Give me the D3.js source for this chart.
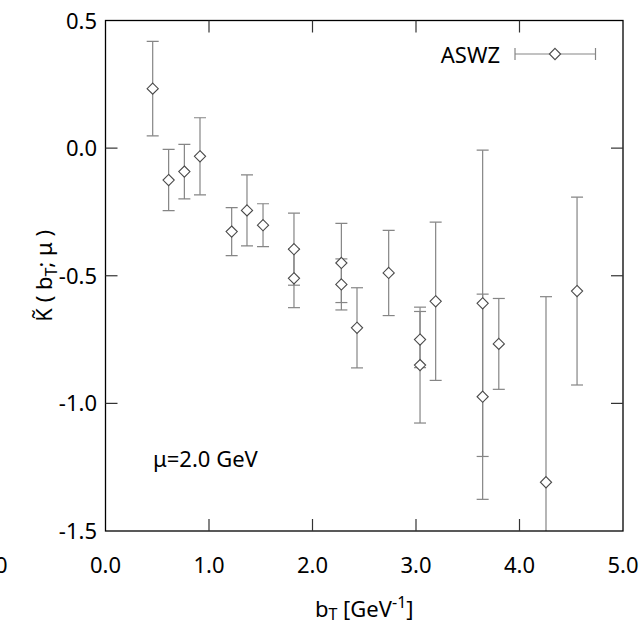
<!DOCTYPE html>
<meta charset="utf-8">
<style>
    body { margin: 0; background: #fff; }
    text { font-family: "Noto Sans", sans-serif; fill: #000; }
    .bar line { stroke: #858585; stroke-width: 1.2; }
    .pt { fill: #fff; stroke: #4a4a4a; stroke-width: 1.1; }
    .frame { fill: none; stroke: #000; stroke-width: 1.3; }
    .tick { stroke: #333; stroke-width: 1.2; }
</style>
<body>
<script src="https://d3js.org/d3.v7.min.js"></script>
<script>

    // b_T values [GeV^-1], K~ central values and their errors
    var bT  = [0.456, 0.61, 0.762, 0.913, 1.219, 1.367, 1.522, 1.821, 1.821, 2.279, 2.279,
               2.43, 2.736, 3.039, 3.039, 3.19, 3.644, 3.644, 3.80, 4.256, 4.556];
    var K   = [0.233, -0.125, -0.092, -0.032, -0.327, -0.244, -0.302, -0.396, -0.51, -0.45, -0.534,
               -0.704, -0.489, -0.75, -0.85, -0.6, -0.608, -0.974, -0.767, -1.309, -0.56];
    var err = [0.185, 0.12, 0.107, 0.151, 0.094, 0.139, 0.084, 0.141, 0.115, 0.155, 0.10,
               0.157, 0.167, 0.11, 0.227, 0.31, 0.60, 0.402, 0.178, 0.727, 0.368];

    var xTicks = [0, 1, 2, 3, 4, 5];
    var yTicks = [0.5, 0, -0.5, -1, -1.5];
    var seriesName = "ASWZ";
    var note = "μ=2.0 GeV";
    var strayLabel = "0.0";

    var width = 641, height = 626;
    var margin = {top: 20.5, right: 18, bottom: 95, left: 105.5};

    var x = d3.scaleLinear().domain([0, 5])
        .range([margin.left, width - margin.right]);
    var y = d3.scaleLinear().domain([-1.5, 0.5])
        .range([height - margin.bottom, margin.top]);

    var svg = d3.select("body").append("svg")
        .attr("width", width)
        .attr("height", height);

    svg.append("clipPath").attr("id", "clip")
        .append("rect")
        .attr("x", x(0)).attr("y", y(0.5))
        .attr("width", x(5) - x(0)).attr("height", y(-1.5) - y(0.5));

    var data = bT.map(function(b, i) { return {b: b, k: K[i], e: err[i]}; });

    var cap = 6, ds = 5.6, tickLen = 12;
    var diamond = "M0," + (-ds) + "L" + ds + ",0L0," + ds + "L" + (-ds) + ",0Z";

    // error bars
    var plot = svg.append("g").attr("clip-path", "url(#clip)");
    var bars = plot.selectAll("g.bar").data(data).enter().append("g").attr("class", "bar");
    bars.append("line")
        .attr("x1", function(d) { return x(d.b); }).attr("x2", function(d) { return x(d.b); })
        .attr("y1", function(d) { return y(d.k + d.e); }).attr("y2", function(d) { return y(d.k - d.e); });
    bars.append("line")
        .attr("x1", function(d) { return x(d.b) - cap; }).attr("x2", function(d) { return x(d.b) + cap; })
        .attr("y1", function(d) { return y(d.k + d.e); }).attr("y2", function(d) { return y(d.k + d.e); });
    bars.append("line")
        .attr("x1", function(d) { return x(d.b) - cap; }).attr("x2", function(d) { return x(d.b) + cap; })
        .attr("y1", function(d) { return y(d.k - d.e); }).attr("y2", function(d) { return y(d.k - d.e); });

    plot.selectAll("path.pt").data(data).enter().append("path")
        .attr("class", "pt")
        .attr("d", diamond)
        .attr("transform", function(d) { return "translate(" + x(d.b) + "," + y(d.k) + ")"; });

    // frame and ticks on all sides
    svg.append("rect").attr("class", "frame")
        .attr("x", x(0)).attr("y", y(0.5))
        .attr("width", x(5) - x(0)).attr("height", y(-1.5) - y(0.5));

    var tk = svg.append("g");
    xTicks.slice(1, -1).forEach(function(t) {
        tk.append("line").attr("class", "tick")
            .attr("x1", x(t)).attr("x2", x(t)).attr("y1", y(-1.5)).attr("y2", y(-1.5) - tickLen);
        tk.append("line").attr("class", "tick")
            .attr("x1", x(t)).attr("x2", x(t)).attr("y1", y(0.5)).attr("y2", y(0.5) + tickLen);
    });
    yTicks.slice(1, -1).forEach(function(t) {
        tk.append("line").attr("class", "tick")
            .attr("x1", x(0)).attr("x2", x(0) + tickLen).attr("y1", y(t)).attr("y2", y(t));
        tk.append("line").attr("class", "tick")
            .attr("x1", x(5)).attr("x2", x(5) - tickLen).attr("y1", y(t)).attr("y2", y(t));
    });

    var fmt = function(d) { return d3.format(".1f")(d).replace("\u2212", "-"); };
    svg.selectAll("text.xt").data(xTicks).enter().append("text")
        .attr("x", function(d) { return x(d); })
        .attr("y", y(-1.5) + 42)
        .attr("text-anchor", "middle")
        .style("font-size", "22px")
        .text(fmt);
    svg.selectAll("text.yt").data(yTicks).enter().append("text")
        .attr("x", x(0) - 8.5)
        .attr("y", function(d) { return y(d) + 8; })
        .attr("text-anchor", "end")
        .style("font-size", "22px")
        .text(fmt);

    // clipped label at the far left
    svg.append("text")
        .attr("x", -8).attr("y", y(-1.5) + 42)
        .attr("text-anchor", "middle")
        .style("font-size", "22px")
        .text(strayLabel);

    // axis titles
    var xt = svg.append("text")
        .attr("x", (x(0) + x(5)) / 2).attr("y", 617)
        .attr("text-anchor", "middle")
        .style("font-size", "22px");
    xt.append("tspan").text("b");
    xt.append("tspan").attr("dy", 3).style("font-size", "16px").text("T");
    xt.append("tspan").attr("dy", -3).text(" [GeV");
    xt.append("tspan").attr("dy", -9).style("font-size", "16px").text("-1");
    xt.append("tspan").attr("dy", 9).text("]");

    var yt = svg.append("text")
        .attr("transform", "translate(52," + ((y(0.5) + y(-1.5)) / 2) + ") rotate(-90)")
        .attr("text-anchor", "middle")
        .style("font-size", "22px");
    yt.append("tspan").text("K\u0303 ( b");
    yt.append("tspan").attr("dy", 5).style("font-size", "16px").text("T");
    yt.append("tspan").attr("dy", -5).text("; μ )");

    // note
    svg.append("text")
        .attr("x", 153).attr("y", 467)
        .style("font-size", "22px")
        .text(note);

    // legend
    var ly = 54;
    svg.append("text")
        .attr("x", 500).attr("y", 63)
        .attr("text-anchor", "end")
        .style("font-size", "22px")
        .text(seriesName);
    var lg = svg.append("g").attr("class", "bar");
    lg.append("line").attr("x1", 515).attr("x2", 595.5).attr("y1", ly).attr("y2", ly);
    lg.append("line").attr("x1", 515).attr("x2", 515).attr("y1", ly - cap).attr("y2", ly + cap);
    lg.append("line").attr("x1", 595.5).attr("x2", 595.5).attr("y1", ly - cap).attr("y2", ly + cap);
    svg.append("path").attr("class", "pt").attr("d", diamond)
        .attr("transform", "translate(555," + ly + ")");

</script>
